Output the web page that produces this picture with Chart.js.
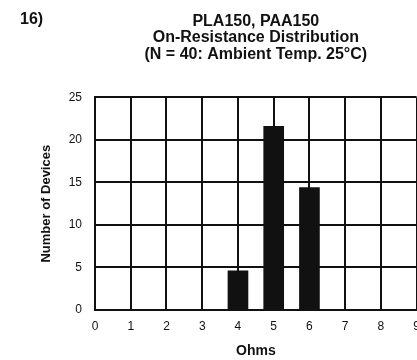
<!DOCTYPE html>
<html>
<head>
<meta charset="utf-8">
<script src="https://cdn.jsdelivr.net/npm/chart.js@4.4.1/dist/chart.umd.min.js"></script>
<style>
  html, body { margin: 0; padding: 0; background: #fff; overflow: hidden; }
  #wrap { position: relative; width: 417px; height: 360px; overflow: hidden; }
  canvas { display: block; }
</style>
</head>
<body>
<div id="wrap"><canvas id="chartOnResistance" width="429" height="360"></canvas></div>
<script>
// ------------------------------------------------------------
// PLA150 / PAA150 - on-resistance histogram
// ------------------------------------------------------------
const ohmsBins = [4, 5, 6];
const deviceCounts = [4.6, 21.6, 14.4];
const xTickMax = 9;
const yTickMax = 25;
const titleLines = ['PLA150, PAA150', 'On-Resistance Distribution', '(N = 40: Ambient Temp. 25°C)'];
const figureLabel = '16)';

const INK = '#111';
const FONT = 'Liberation Sans, Arial, Helvetica, sans-serif';

// draws the "16)" figure number in the top-left corner
const figureNumber = {
  id: 'figureNumber',
  afterDraw(chart) {
    const c = chart.ctx;
    c.save();
    c.font = `bold 16px ${FONT}`;
    c.fillStyle = INK;
    c.textAlign = 'left';
    c.textBaseline = 'middle';
    c.fillText(figureLabel, 20, 20);
    c.restore();
  }
};

const ctx = document.getElementById('chartOnResistance').getContext('2d');
new Chart(ctx, {
  type: 'bar',
  data: {
    datasets: [{
      data: ohmsBins.map((x, i) => ({ x, y: deviceCounts[i] })),
      backgroundColor: INK,
      borderWidth: 0,
      barThickness: 20,
    }]
  },
  options: {
    responsive: false,
    animation: false,
    layout: { padding: { left: 30, right: 9, top: 0, bottom: 0 } },
    plugins: {
      legend: { display: false },
      tooltip: { enabled: false },
      title: {
        display: true,
        text: titleLines,
        fullSize: false,
        color: INK,
        font: { family: FONT, size: 16, weight: 'bold', lineHeight: 1.03 },
        padding: { top: 13, bottom: 35 }
      }
    },
    scales: {
      x: {
        type: 'linear',
        min: 0,
        max: xTickMax,
        offset: false,
        grid: { color: INK, lineWidth: 2, drawTicks: false, offset: false },
        border: { color: INK, width: 2 },
        ticks: { stepSize: 1, color: INK, padding: 9, font: { family: FONT, size: 12 } },
        title: {
          display: true,
          text: 'Ohms',
          color: INK,
          font: { family: FONT, size: 14, weight: 'bold' },
          padding: { top: 4, bottom: 0 }
        },
        afterFit: s => { s.height = 50; }
      },
      y: {
        min: 0,
        max: yTickMax,
        grid: { color: INK, lineWidth: 2, drawTicks: false },
        border: { color: INK, width: 2 },
        ticks: { stepSize: 5, color: INK, padding: 13, font: { family: FONT, size: 12 } },
        title: {
          display: true,
          text: 'Number of Devices',
          color: INK,
          font: { family: FONT, size: 13, weight: 'bold' },
          padding: { top: 9, bottom: 0 }
        },
        afterFit: s => { s.width = 65; }
      }
    }
  },
  plugins: [figureNumber]
});
</script>
</body>
</html>
